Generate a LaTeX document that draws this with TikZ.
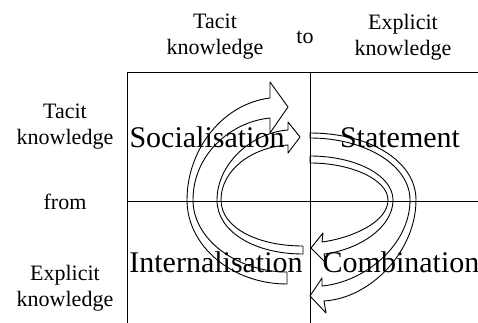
\documentclass[tikz,border=0pt]{standalone}
\usepackage{fontspec}
\setmainfont{Liberation Serif}

\begin{document}
\begin{tikzpicture}[x=1pt, y=-1pt,
  lbl/.style={align=center, inner sep=0pt, font=\fontsize{22}{26}\selectfont},
  quad/.style={anchor=base, inner sep=0pt, font=\fontsize{30}{34}\selectfont},
  band/.style={line width=0.9pt, line join=round}]
  \useasboundingbox (0,0) rectangle (478,323);
  % the matrix lines
  \draw[line width=1pt] (127,323) -- (127,73) -- (478,73);
  \draw[line width=1pt] (310,73) -- (310,323);
  \draw[line width=1pt] (127,201) -- (478,201);
  % headings
  \node[lbl] (colTacit) at (215,37) {Tacit\\knowledge};
  \node[lbl] (colTo)    at (305,37) {to};
  \node[lbl] (colExpl)  at (403,37) {Explicit\\knowledge};
  \node[lbl] (rowTacit) at (65,127) {Tacit\\knowledge};
  \node[lbl] (rowFrom)  at (65,202) {from};
  \node[lbl] (rowExpl)  at (65,288) {Explicit\\knowledge};
  % the four modes
  \node[quad] (soc)    at (207,147) {Socialisation};
  \node[quad] (stat)   at (400,147) {Statement};
  \node[quad] (intern) at (216,272) {Internalisation};
  \node[quad] (comb)   at (401,272) {Combination};
  % hollow arrows, left side (bottom to top)
  \draw[band] (287,284) .. controls (232,284) and (187,246) .. (187,200)
    .. controls (187,150) and (222,104) .. (270,98)
    -- (270,82) -- (288,107) -- (270,133) -- (270,118)
    .. controls (230,122) and (193,155) .. (193,200)
    .. controls (193,240) and (238,272) .. (287,272) -- cycle;
  \draw[band] (303,254) .. controls (255,254) and (217,232) .. (217,200)
    .. controls (217,165) and (250,133) .. (288,130)
    -- (288,122) -- (300,137) -- (288,153) -- (288,145)
    .. controls (252,147) and (221,170) .. (221,200)
    .. controls (221,228) and (258,246) .. (303,246) -- cycle;
  % hollow arrows, right side (top to bottom)
  \draw[band] (310,133) .. controls (368,133) and (416,160) .. (416,200)
    .. controls (416,250) and (372,298) .. (324,301)
    -- (326,313) -- (310,296) -- (322,278) -- (322,286)
    .. controls (365,282) and (410,245) .. (410,200)
    .. controls (410,165) and (365,138) .. (310,138) -- cycle;
  \draw[band] (310,156) .. controls (355,156) and (393,175) .. (393,200)
    .. controls (393,228) and (358,250) .. (324,254)
    -- (326,263) -- (311,248) -- (323,233) -- (322,242)
    .. controls (352,238) and (388,222) .. (388,200)
    .. controls (388,180) and (352,163) .. (310,163) -- cycle;
\end{tikzpicture}
\end{document}
